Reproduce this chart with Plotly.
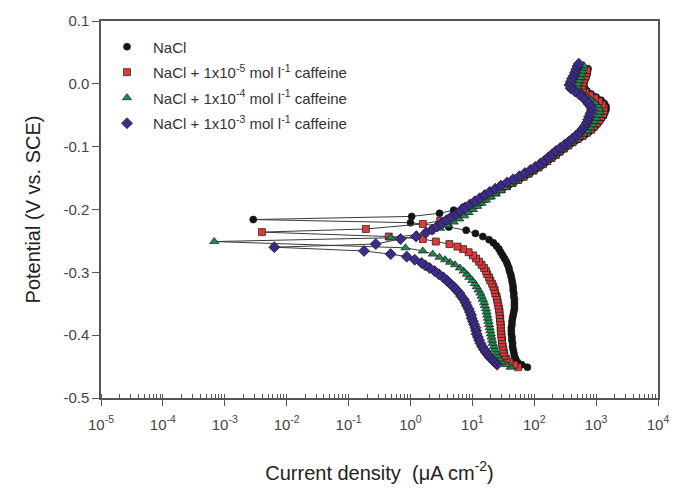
import numpy as np
import plotly.graph_objects as go

# ---------------- data (E in V vs SCE, log10 of current density in uA cm-2) ----------------
nacl_E = [-0.451, -0.447, -0.443, -0.438, -0.433, -0.428, -0.423, -0.418, -0.413, -0.408,
          -0.403, -0.398, -0.393, -0.388, -0.383, -0.378, -0.373, -0.368, -0.363, -0.358,
          -0.353, -0.348, -0.343, -0.338, -0.333, -0.328, -0.323, -0.318, -0.313, -0.308,
          -0.303, -0.298, -0.293, -0.288, -0.283, -0.278, -0.273, -0.268, -0.263, -0.258,
          -0.253, -0.248, -0.243, -0.238, -0.233, -0.228, -0.221, -0.216, -0.211, -0.206,
          -0.201, -0.196, -0.191, -0.186, -0.181, -0.176, -0.171, -0.166, -0.161, -0.156,
          -0.151, -0.146, -0.141, -0.136, -0.131, -0.126, -0.121, -0.116, -0.111, -0.106,
          -0.101, -0.096, -0.091, -0.086, -0.081, -0.076, -0.071, -0.066, -0.061, -0.056,
          -0.051, -0.046, -0.041, -0.036, -0.031, -0.026, -0.021, -0.016, -0.011, -0.006,
          -0.001, 0.004, 0.009, 0.014, 0.019, 0.024]
nacl_logi = [1.89, 1.80, 1.73, 1.70, 1.68, 1.67, 1.66, 1.65, 1.65, 1.64,
             1.64, 1.63, 1.63, 1.63, 1.64, 1.64, 1.65, 1.66, 1.67, 1.68,
             1.68, 1.68, 1.68, 1.67, 1.67, 1.66, 1.66, 1.65, 1.64, 1.63,
             1.62, 1.60, 1.59, 1.57, 1.55, 1.52, 1.49, 1.46, 1.43, 1.39,
             1.34, 1.27, 1.17, 1.05, 0.90, 0.62, 0.00, -2.54, 0.02, 0.47,
             0.70, 0.86, 0.98, 1.09, 1.19, 1.29, 1.39, 1.49, 1.59, 1.68,
             1.77, 1.86, 1.94, 2.02, 2.10, 2.17, 2.24, 2.31, 2.37, 2.44,
             2.51, 2.58, 2.66, 2.74, 2.82, 2.89, 2.95, 3.00, 3.04, 3.08,
             3.12, 3.14, 3.16, 3.16, 3.13, 3.08, 3.00, 2.92, 2.85, 2.81,
             2.80, 2.81, 2.83, 2.85, 2.86, 2.87]

c5_E = [-0.451, -0.447, -0.443, -0.438, -0.433, -0.428, -0.423, -0.418, -0.413, -0.408,
        -0.403, -0.398, -0.393, -0.388, -0.383, -0.378, -0.373, -0.368, -0.363, -0.358,
        -0.353, -0.348, -0.343, -0.338, -0.333, -0.328, -0.323, -0.318, -0.313, -0.308,
        -0.303, -0.298, -0.293, -0.288, -0.283, -0.278, -0.273, -0.268, -0.263, -0.259,
        -0.255, -0.251, -0.247, -0.243, -0.236, -0.231, -0.223, -0.218, -0.213, -0.208,
        -0.203, -0.198, -0.193, -0.188, -0.183, -0.178, -0.173, -0.168, -0.163, -0.158,
        -0.153, -0.148, -0.143, -0.138, -0.133, -0.128, -0.123, -0.118, -0.113, -0.108,
        -0.103, -0.098, -0.093, -0.088, -0.083, -0.078, -0.073, -0.068, -0.063, -0.058,
        -0.053, -0.048, -0.043, -0.038, -0.033, -0.028, -0.023, -0.018, -0.013, -0.008,
        -0.003, 0.002, 0.007, 0.012, 0.017, 0.022]
c5_logi = [1.74, 1.68, 1.60, 1.55, 1.52, 1.51, 1.50, 1.49, 1.48, 1.48,
           1.47, 1.47, 1.46, 1.46, 1.46, 1.45, 1.45, 1.44, 1.44, 1.43,
           1.42, 1.41, 1.40, 1.39, 1.37, 1.36, 1.34, 1.32, 1.29, 1.27,
           1.24, 1.22, 1.19, 1.15, 1.11, 1.06, 1.01, 0.94, 0.85, 0.76,
           0.63, 0.41, 0.20, -0.35, -2.40, -0.72, 0.20, 0.48, 0.66, 0.78,
           0.88, 0.96, 1.04, 1.12, 1.20, 1.29, 1.38, 1.47, 1.56, 1.65,
           1.74, 1.83, 1.91, 1.99, 2.07, 2.14, 2.21, 2.28, 2.35, 2.41,
           2.48, 2.55, 2.62, 2.70, 2.78, 2.85, 2.92, 2.97, 3.01, 3.05,
           3.08, 3.11, 3.13, 3.13, 3.10, 3.05, 2.98, 2.90, 2.83, 2.79,
           2.78, 2.79, 2.81, 2.83, 2.84, 2.85]

c4_E = [-0.451, -0.447, -0.443, -0.438, -0.433, -0.428, -0.423, -0.418, -0.413, -0.408,
        -0.403, -0.398, -0.393, -0.388, -0.383, -0.378, -0.373, -0.368, -0.363, -0.358,
        -0.353, -0.348, -0.343, -0.338, -0.333, -0.328, -0.323, -0.318, -0.313, -0.308,
        -0.303, -0.298, -0.293, -0.288, -0.284, -0.280, -0.276, -0.271, -0.266, -0.261,
        -0.251, -0.245, -0.240, -0.235, -0.230, -0.225, -0.220, -0.215, -0.210, -0.205,
        -0.200, -0.195, -0.190, -0.185, -0.180, -0.175, -0.170, -0.165, -0.160, -0.155,
        -0.150, -0.145, -0.140, -0.135, -0.130, -0.125, -0.120, -0.115, -0.110, -0.105,
        -0.100, -0.095, -0.090, -0.085, -0.080, -0.075, -0.070, -0.065, -0.060, -0.055,
        -0.050, -0.045, -0.040, -0.035, -0.030, -0.025, -0.020, -0.015, -0.010, -0.005,
        0.000, 0.005, 0.010, 0.015, 0.020, 0.025, 0.029]
c4_logi = [1.62, 1.55, 1.48, 1.44, 1.41, 1.38, 1.36, 1.35, 1.33, 1.32,
           1.31, 1.30, 1.29, 1.28, 1.27, 1.26, 1.25, 1.24, 1.23, 1.22,
           1.20, 1.19, 1.17, 1.15, 1.13, 1.10, 1.07, 1.04, 1.00, 0.95,
           0.91, 0.86, 0.80, 0.72, 0.64, 0.56, 0.47, 0.36, 0.20, -0.08,
           -3.17, -0.32, 0.10, 0.32, 0.48, 0.60, 0.70, 0.79, 0.87, 0.94,
           1.01, 1.08, 1.15, 1.22, 1.30, 1.38, 1.46, 1.54, 1.62, 1.70,
           1.78, 1.87, 1.95, 2.03, 2.10, 2.17, 2.24, 2.31, 2.37, 2.44,
           2.51, 2.58, 2.65, 2.73, 2.80, 2.86, 2.91, 2.95, 2.98, 3.01,
           3.04, 3.06, 3.06, 3.03, 2.98, 2.91, 2.84, 2.77, 2.72, 2.70,
           2.71, 2.73, 2.75, 2.77, 2.78, 2.79, 2.80]

c3_E = [-0.447, -0.443, -0.439, -0.435, -0.431, -0.427, -0.423, -0.418, -0.413, -0.408,
        -0.403, -0.398, -0.393, -0.388, -0.383, -0.378, -0.373, -0.368, -0.363, -0.358,
        -0.353, -0.348, -0.343, -0.338, -0.333, -0.328, -0.323, -0.318, -0.313, -0.308,
        -0.303, -0.298, -0.293, -0.289, -0.285, -0.280, -0.275, -0.271, -0.266, -0.260,
        -0.255, -0.247, -0.243, -0.237, -0.232, -0.227, -0.222, -0.217, -0.212, -0.207,
        -0.202, -0.197, -0.192, -0.187, -0.182, -0.177, -0.172, -0.167, -0.162, -0.157,
        -0.152, -0.147, -0.142, -0.137, -0.132, -0.127, -0.122, -0.117, -0.112, -0.107,
        -0.102, -0.097, -0.092, -0.087, -0.082, -0.077, -0.072, -0.067, -0.062, -0.057,
        -0.052, -0.047, -0.042, -0.037, -0.032, -0.027, -0.022, -0.017, -0.012, -0.007,
        -0.002, 0.003, 0.008, 0.013, 0.018, 0.023, 0.028, 0.032]
c3_logi = [1.40, 1.36, 1.32, 1.28, 1.25, 1.22, 1.19, 1.16, 1.13, 1.11,
           1.09, 1.07, 1.06, 1.05, 1.03, 1.01, 0.99, 0.98, 0.96, 0.94,
           0.91, 0.89, 0.86, 0.82, 0.79, 0.74, 0.70, 0.64, 0.59, 0.53,
           0.46, 0.39, 0.31, 0.24, 0.18, 0.07, -0.06, -0.32, -0.75, -2.20,
           -0.56, -0.16, 0.09, 0.25, 0.35, 0.43, 0.50, 0.58, 0.66, 0.74,
           0.81, 0.88, 0.96, 1.04, 1.12, 1.20, 1.28, 1.37, 1.46, 1.56,
           1.66, 1.76, 1.85, 1.94, 2.02, 2.10, 2.17, 2.23, 2.29, 2.35,
           2.42, 2.49, 2.56, 2.62, 2.68, 2.74, 2.78, 2.82, 2.85, 2.87,
           2.89, 2.91, 2.93, 2.92, 2.88, 2.84, 2.79, 2.73, 2.66, 2.59,
           2.57, 2.59, 2.61, 2.64, 2.66, 2.68, 2.70, 2.72]

series_names = [
    "NaCl",
    "NaCl + 1x10<sup>-5</sup> mol l<sup>-1</sup> caffeine",
    "NaCl + 1x10<sup>-4</sup> mol l<sup>-1</sup> caffeine",
    "NaCl + 1x10<sup>-3</sup> mol l<sup>-1</sup> caffeine",
]
x_tick_vals = [1e-5, 1e-4, 1e-3, 1e-2, 1e-1, 1e0, 1e1, 1e2, 1e3, 1e4]
x_tick_text = ["10<sup>-5</sup>", "10<sup>-4</sup>", "10<sup>-3</sup>", "10<sup>-2</sup>",
               "10<sup>-1</sup>", "10<sup>0</sup>", "10<sup>1</sup>", "10<sup>2</sup>",
               "10<sup>3</sup>", "10<sup>4</sup>"]
y_tick_vals = [-0.5, -0.4, -0.3, -0.2, -0.1, 0.0, 0.1]
y_tick_text = ["-0.5", "-0.4", "-0.3", "-0.2", "-0.1", "0.0", "0.1"]

# ---------------- styles ----------------
styles = [
    dict(symbol="circle", color="#141414", size=7),
    dict(symbol="square", color="#e0393b", size=7),
    dict(symbol="triangle-up", color="#1e8a4c", size=8),
    dict(symbol="diamond", color="#3d2b8a", size=8.5),
]
datasets = [(nacl_E, nacl_logi), (c5_E, c5_logi), (c4_E, c4_logi), (c3_E, c3_logi)]

fig = go.Figure()
for k, ((E, logi), name, st) in enumerate(zip(datasets, series_names, styles)):
    cur = np.power(10.0, np.array(logi))
    grp = "g%d" % k
    fig.add_trace(go.Scatter(x=cur, y=E, mode="lines", showlegend=False, legendgroup=grp,
                             line=dict(color="#3a3a3a", width=1), hoverinfo="skip"))
    fig.add_trace(go.Scatter(x=cur, y=E, mode="markers", name=name, legendgroup=grp,
                             marker=dict(symbol=st["symbol"], color=st["color"], size=st["size"],
                                         line=dict(color="#1a1a1a", width=0.7))))

axis_col = "#555555"
fig.update_layout(
    width=679, height=491,
    margin=dict(l=101, r=10, t=21, b=93),
    paper_bgcolor="white", plot_bgcolor="white",
    font=dict(family="Liberation Sans, Arial, sans-serif", color="#333333"),
    showlegend=True,
    legend=dict(x=0.0, y=0.975, xanchor="left", yanchor="top",
                bgcolor="rgba(0,0,0,0)", font=dict(size=15, color="#333333"),
                tracegroupgap=3, itemwidth=42),
    xaxis=dict(type="log", range=[-5, 4], tickvals=x_tick_vals, ticktext=x_tick_text,
               ticks="outside", ticklen=6, tickwidth=1.2, tickcolor=axis_col,
               minor=dict(ticks="inside", ticklen=4, tickwidth=1, tickcolor=axis_col,
                          dtick="D1", showgrid=False),
               showline=True, linecolor=axis_col, linewidth=1.5, mirror=True,
               showgrid=False, zeroline=False, ticklabelstandoff=6,
               tickfont=dict(size=15, color="#444444"),
               title=dict(text="Current density  (\u03bcA cm<sup>-2</sup>)",
                          font=dict(size=20, color="#222222"), standoff=34)),
    yaxis=dict(range=[-0.5, 0.1], tickvals=y_tick_vals, ticktext=y_tick_text,
               ticks="outside", ticklen=7, tickwidth=1.2, tickcolor=axis_col,
               showline=True, linecolor=axis_col, linewidth=1.5, mirror=True,
               showgrid=False, zeroline=False,
               tickfont=dict(size=15, color="#444444"),
               title=dict(text="Potential (V vs. SCE)",
                          font=dict(size=20, color="#222222"), standoff=17)),
)

fig.write_html("out.html")
